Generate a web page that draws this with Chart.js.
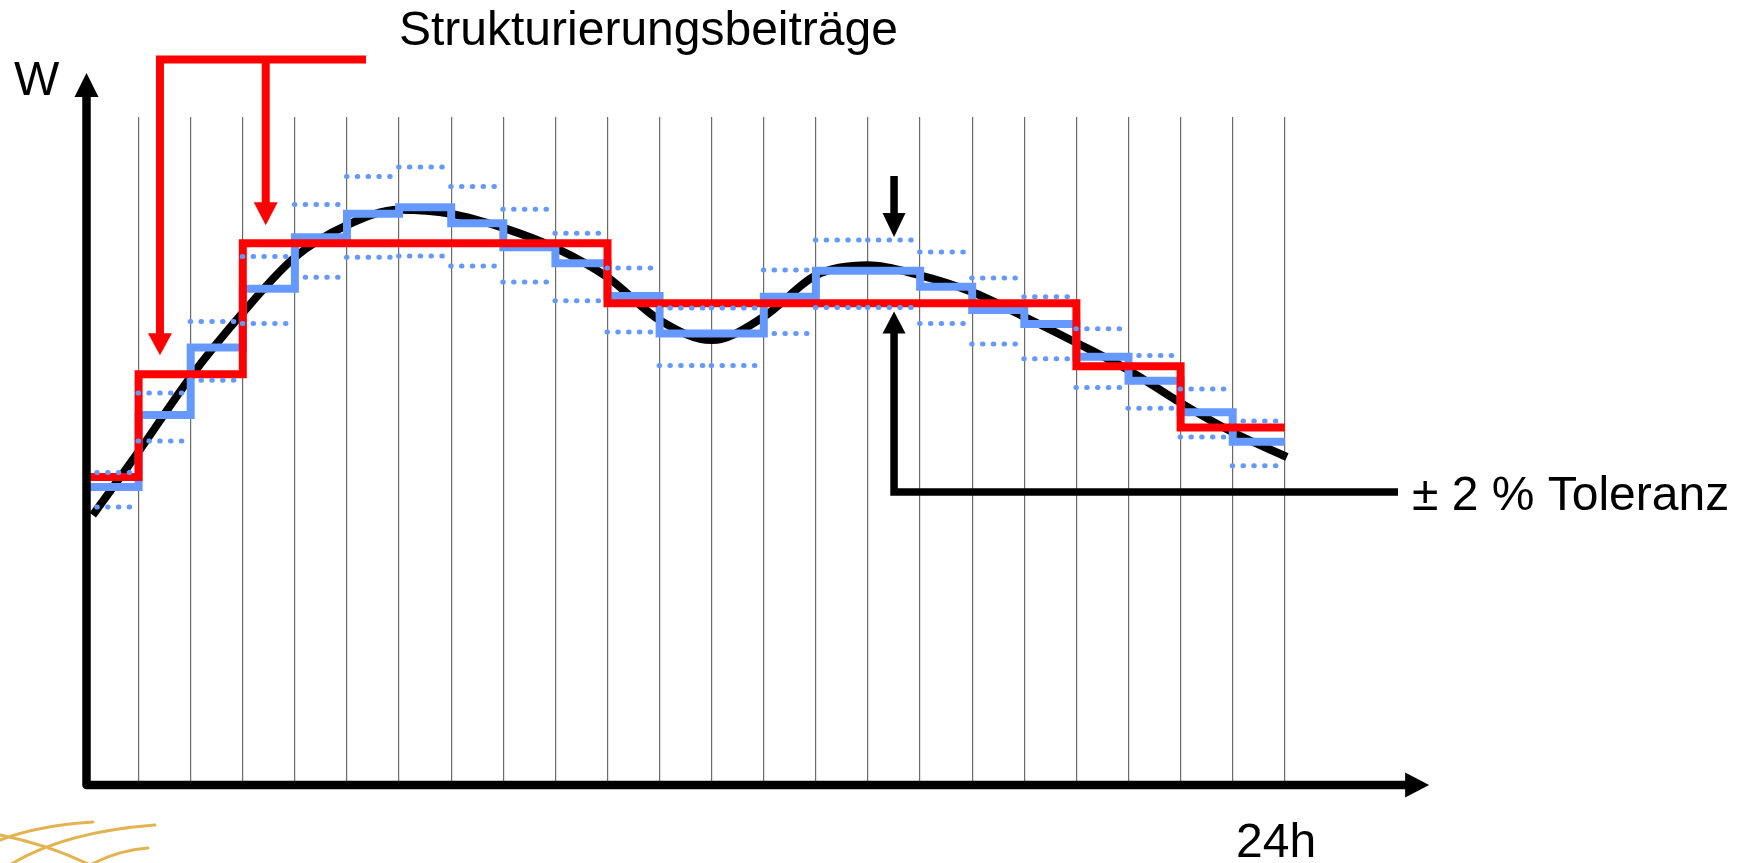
<!DOCTYPE html>
<html lang="de">
<head>
<meta charset="utf-8">
<title>Strukturierungsbeiträge</title>
<script src="https://cdn.jsdelivr.net/npm/chart.js@4.4.1/dist/chart.umd.min.js"></script>
<style>
    html, body { margin: 0; padding: 0; background: #fff; }
    canvas { display: block; }
</style>
</head>
<body>
<canvas id="chart" width="1756" height="863"></canvas>
<script>
// ── Data (W in relative units, hours 0..23) ──
const hourly   = [44.6, 55.4, 65.5, 74.3, 82.0, 85.5, 86.5, 84.1, 80.5, 78.1, 73.2, 67.6,
                  67.6, 73.1, 77.0, 77.0, 74.6, 71.1, 69.0, 64.1, 60.5, 55.8, 51.4];
const upperTol = [46.8, 58.7, 69.4, 79.1, 86.9, 91.1, 92.5, 89.6, 86.2, 82.6, 77.4, 71.4,
                  71.4, 77.1, 81.6, 81.6, 79.8, 75.9, 73.1, 68.3, 64.3, 59.3, 54.5];
const lowerTol = [41.6, 51.5, 60.6, 69.1, 76.0, 79.0, 79.2, 77.7, 75.3, 72.5, 67.8, 62.8,
                  62.8, 67.6, 71.5, 71.5, 69.1, 66.0, 63.8, 59.5, 56.4, 52.1, 47.8];

const blockStarts = [0, 1, 3, 10, 19, 21];
const blockValues = [46.1, 61.5, 81.1, 72.1, 62.7, 53.5];
const dayEnd = 23;

const curveX = [0.12, 1, 2, 3, 4, 5, 6, 7, 8, 9, 10, 11, 12, 13, 14, 15, 16, 17, 18, 19, 20, 21, 22, 23.04];
const curveY = [40.4, 49.9, 61.1, 70.7, 79.0, 83.8, 86.1, 85.5, 83.4, 80.4, 76.0, 69.6,
                66.6, 70.1, 76.3, 77.8, 76.3, 73.8, 70.1, 66.2, 62.1, 57.2, 52.8, 49.1];

const BLUE = '#6699ff';
const RED  = '#ff0000';
const FONT = '48px "Liberation Sans", Arial, sans-serif';

// ── Point builders ──
const stepPoints = (starts, values) => {
    const pts = starts.map((s, i) => ({ x: s, y: values[i] }));
    pts.push({ x: dayEnd, y: values[values.length - 1] });
    return pts;
};
const dottedPoints = (values) => {
    const pts = [];
    values.forEach((v, h) => {
        pts.push({ x: h - 0.01, y: v }, { x: h + 0.83, y: v }, { x: h + 0.9, y: null });
    });
    return pts;
};

const triangle = (ctx, a, b, c) => {
    ctx.beginPath();
    ctx.moveTo(a[0], a[1]);
    ctx.lineTo(b[0], b[1]);
    ctx.lineTo(c[0], c[1]);
    ctx.closePath();
    ctx.fill();
};

// ── Axes, arrows, labels ──
const overlay = {
    id: 'overlay',
    afterDatasetsDraw(chart) {
        const { ctx, scales: { x, y } } = chart;
        const x0 = x.getPixelForValue(0);
        const y0 = y.getPixelForValue(0);
        const xEnd = x.getPixelForValue(25.77);
        ctx.save();

        // axes with arrow heads
        ctx.strokeStyle = '#000';
        ctx.fillStyle = '#000';
        ctx.lineWidth = 8.5;
        ctx.lineJoin = 'round';
        ctx.beginPath();
        ctx.moveTo(x0, 96);
        ctx.lineTo(x0, y0);
        ctx.lineTo(xEnd - 22, y0);
        ctx.stroke();
        triangle(ctx, [x0, 73], [x0 - 12, 97], [x0 + 12, 97]);
        triangle(ctx, [xEnd, y0], [xEnd - 24, y0 - 12.5], [xEnd - 24, y0 + 12.5]);

        // tolerance arrows
        const xa = x.getPixelForValue(15.5);
        const tipDown = y.getPixelForValue(upperTol[15]) - 3;
        const tipUp = y.getPixelForValue(lowerTol[15]) + 4;
        ctx.lineWidth = 7.5;
        ctx.lineJoin = 'miter';
        ctx.beginPath();
        ctx.moveTo(xa, 176);
        ctx.lineTo(xa, tipDown - 22);
        ctx.stroke();
        triangle(ctx, [xa, tipDown], [xa - 11.5, tipDown - 24], [xa + 11.5, tipDown - 24]);
        ctx.beginPath();
        ctx.moveTo(xa, tipUp + 20);
        ctx.lineTo(xa, 492);
        ctx.lineTo(1398, 492);
        ctx.stroke();
        triangle(ctx, [xa, tipUp], [xa - 11.5, tipUp + 22], [xa + 11.5, tipUp + 22]);

        // red bracket arrows
        const xr1 = x.getPixelForValue(1.41);
        const xr2 = x.getPixelForValue(3.44);
        const tip1 = y.getPixelForValue(blockValues[1]) - 19;
        const tip2 = y.getPixelForValue(blockValues[2]) - 18;
        ctx.strokeStyle = RED;
        ctx.fillStyle = RED;
        ctx.lineWidth = 8;
        ctx.beginPath();
        ctx.moveTo(366, 59.5);
        ctx.lineTo(xr1, 59.5);
        ctx.lineTo(xr1, tip1 - 20);
        ctx.moveTo(xr2, 59.5);
        ctx.lineTo(xr2, tip2 - 21);
        ctx.stroke();
        triangle(ctx, [xr1, tip1], [xr1 - 12, tip1 - 22], [xr1 + 12, tip1 - 22]);
        triangle(ctx, [xr2, tip2], [xr2 - 12, tip2 - 23], [xr2 + 12, tip2 - 23]);

        // texts
        ctx.fillStyle = '#000';
        ctx.font = FONT;
        ctx.textBaseline = 'alphabetic';
        ctx.textAlign = 'left';
        ctx.fillText('W', 14, 95);
        ctx.fillText('Strukturierungsbeiträge', 399, 45);
        ctx.fillText('± 2 % Toleranz', 1412, 510);
        ctx.fillText('24h', 1236, 857);

        // logo arcs, bottom left
        ctx.strokeStyle = '#e2b350';
        ctx.lineWidth = 3;
        ctx.lineCap = 'round';
        ctx.beginPath();
        ctx.moveTo(0, 840);  ctx.quadraticCurveTo(40, 825, 93, 822);
        ctx.moveTo(0, 835);  ctx.quadraticCurveTo(50, 845, 92, 866);
        ctx.moveTo(8, 866);  ctx.quadraticCurveTo(62, 832, 155, 825);
        ctx.moveTo(88, 866); ctx.quadraticCurveTo(118, 850, 148, 848);
        ctx.stroke();

        ctx.restore();
    }
};

const dotted = (values) => ({
    data: dottedPoints(values),
    borderColor: BLUE,
    borderWidth: 5,
    borderDash: [0.5, 10.3],
    borderCapStyle: 'round',
    spanGaps: false,
    pointRadius: 0
});

new Chart(document.getElementById('chart'), {
    type: 'line',
    data: {
        datasets: [
            dotted(upperTol),
            dotted(lowerTol),
            {
                data: stepPoints(blockStarts, blockValues),
                borderColor: RED,
                borderWidth: 8,
                stepped: true,
                borderJoinStyle: 'miter',
                pointRadius: 0
            },
            {
                data: stepPoints(hourly.map((v, h) => h), hourly),
                borderColor: BLUE,
                borderWidth: 8,
                stepped: true,
                borderJoinStyle: 'miter',
                pointRadius: 0
            },
            {
                data: curveX.map((v, i) => ({ x: v, y: curveY[i] })),
                borderColor: '#000',
                borderWidth: 8,
                cubicInterpolationMode: 'monotone',
                pointRadius: 0,
                clip: false
            }
        ]
    },
    options: {
        responsive: false,
        animation: false,
        devicePixelRatio: 1,
        layout: { padding: { left: 86.5, right: 471.2, top: 117, bottom: 78 } },
        plugins: { legend: { display: false }, tooltip: { enabled: false } },
        scales: {
            x: {
                type: 'linear',
                min: 0,
                max: dayEnd,
                ticks: { display: false, stepSize: 1 },
                border: { display: false },
                grid: {
                    drawTicks: false,
                    lineWidth: 1.2,
                    color: (c) => c.tick && c.tick.value === 0 ? 'rgba(0,0,0,0)' : '#6a6a6a'
                }
            },
            y: { display: false, min: 0, max: 100 }
        }
    },
    plugins: [overlay]
});
</script>
</body>
</html>
